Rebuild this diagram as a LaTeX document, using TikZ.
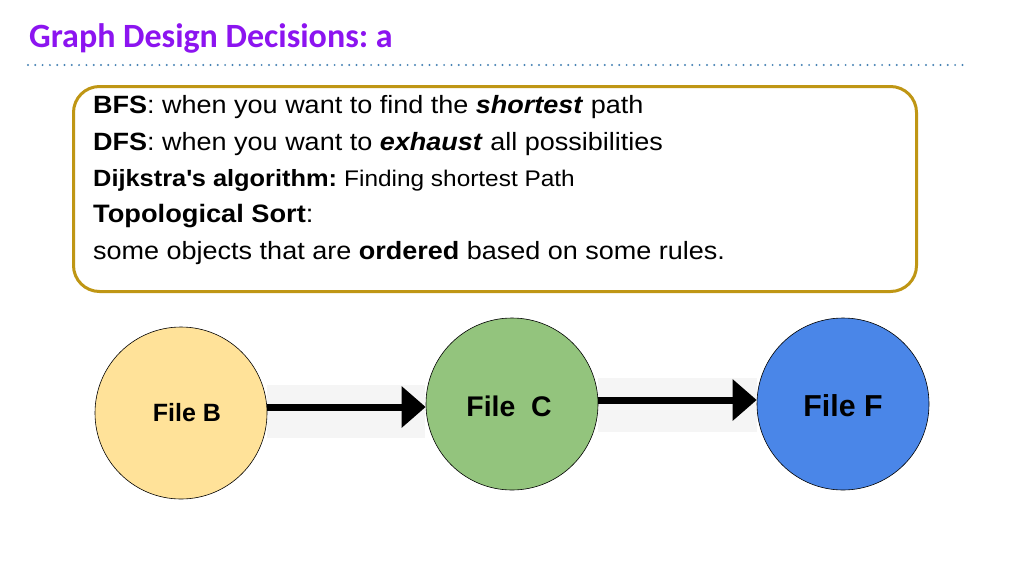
\documentclass[tikz,border=0pt]{standalone}
\usepackage{fontspec}
\setmainfont{Liberation Sans}
\newfontfamily\boxfont[FakeStretch=1.08]{Liberation Sans}
\newfontfamily\titlefont{Carlito}
\usetikzlibrary{arrows.meta}
\definecolor{titlepurple}{RGB}{140,20,240}
\definecolor{dotblue}{RGB}{70,130,180}
\definecolor{boxgold}{RGB}{191,150,20}
\definecolor{fileyellow}{RGB}{255,226,153}
\definecolor{filegreen}{RGB}{147,196,125}
\definecolor{fileblue}{RGB}{74,134,232}
\definecolor{bandgray}{RGB}{245,245,245}
\tikzset{
  filenode/.style={circle, draw=black, line width=0.6pt, minimum size=172pt, inner sep=0pt},
  filelabel/.style={font=\bfseries\fontsize{#1}{#1}\selectfont, inner sep=0pt},
  textline/.style={anchor=base west, inner sep=0pt},
  bigarrow/.style={line width=7pt, -{Triangle[length=24pt,width=40pt]}},
  band/.style={fill=bandgray, draw=none}
}
\begin{document}
\frenchspacing
\begin{tikzpicture}[x=1pt,y=-1pt]
\useasboundingbox (0,0) rectangle (1024,576);
\fill[white] (0,0) rectangle (1024,576);
% title
\node[anchor=base west, inner sep=0pt, text=titlepurple, font=\titlefont\bfseries\fontsize{34}{38}\selectfont] (title) at (29,47) {Graph Design Decisions: a};
\coordinate (dl) at (28,65);
\coordinate (dr) at (969,65);
\draw[dotblue, line width=2.2pt, line cap=round, dash pattern=on 0pt off 7.3pt] (dl) -- (dr);
% box
\node[draw=boxgold, line width=3pt, rounded corners=26pt, minimum width=843pt, minimum height=205pt, anchor=north west, inner sep=0pt] (box) at (72,85) {};
\node[textline, font=\boxfont\fontsize{25}{28}\selectfont] (l1) at (93,113) {\textbf{BFS}: when you want to find the \textbf{\textit{shortest}} path};
\node[textline, font=\boxfont\fontsize{25}{28}\selectfont] (l2) at (93,150) {\textbf{DFS}: when you want to \textbf{\textit{exhaust}} all possibilities};
\node[textline, font=\boxfont\fontsize{23.5}{26}\selectfont] (l3) at (93,186) {\textbf{Dijkstra\textquotesingle s algorithm:} {\fontsize{22.6}{26}\selectfont Finding shortest Path}};
\node[textline, font=\boxfont\fontsize{25.2}{28}\selectfont] (l4) at (93,222) {\textbf{Topological Sort}:};
\node[textline, font=\boxfont\fontsize{25}{28}\selectfont] (l5) at (93,259) {some objects that are \textbf{ordered} based on some rules.};
% bands
\fill[band] (267,385) rectangle (425,438);
\fill[band] (598,378) rectangle (757,432);
% circles
\node[filenode, fill=fileyellow] (b) at (181,413) {};
\node[filenode, fill=filegreen] (c) at (512,404) {};
\node[filenode, fill=fileblue] (f) at (843,404) {};
\node[filelabel=25] (tb) at (187,413) {File B};
\node[filelabel=28.4] (tc) at (509,406) {File\ \ C};
\node[filelabel=30.3] (tf) at (843,406) {File F};
% arrows
\draw[bigarrow] (b.east |- 0,407) -- (c.west |- 0,407);
\draw[bigarrow] (c.east |- 0,400) -- (f.west |- 0,400);
\end{tikzpicture}
\end{document}
